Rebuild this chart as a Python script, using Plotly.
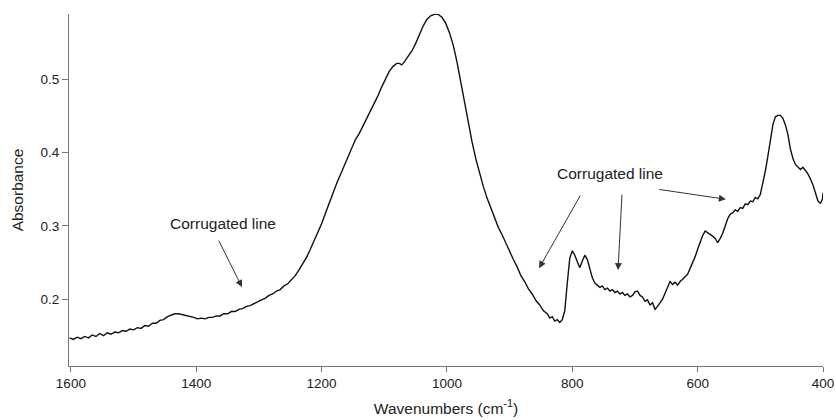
import plotly.graph_objects as go

wavenumber = [
    1602, 1596, 1590, 1584, 1578, 1572, 1566, 1560, 1554, 1548, 1542, 1536, 1530, 1524, 1518, 1512,
    1506, 1500, 1494, 1488, 1482, 1476, 1470, 1464, 1458, 1452, 1446, 1440, 1434, 1428, 1422, 1416,
    1410, 1404, 1398, 1392, 1386, 1380, 1374, 1368, 1362, 1356, 1350, 1344, 1338, 1332, 1326, 1320,
    1314, 1308, 1302, 1296, 1290, 1284, 1278, 1272, 1266, 1260, 1254, 1248, 1242, 1236, 1230, 1224,
    1218, 1212, 1206, 1200, 1194, 1188, 1182, 1176, 1170, 1164, 1158, 1152, 1146, 1140, 1134, 1128,
    1122, 1116, 1110, 1104, 1098, 1092, 1086, 1080, 1076, 1072, 1068, 1062, 1056, 1050, 1044, 1038,
    1032, 1026, 1020, 1014, 1008, 1002, 996, 990, 984, 978, 972, 966, 960, 954, 948, 942,
    936, 930, 924, 918, 912, 906, 900, 894, 888, 882, 876, 870, 864, 858, 852, 846,
    840, 836, 832, 828, 824, 820, 816, 812, 808, 804, 800, 796, 792, 788, 784, 780,
    776, 772, 768, 764, 760, 756, 752, 748, 744, 740, 736, 732, 728, 724, 720, 716,
    712, 708, 704, 700, 696, 692, 688, 684, 680, 676, 672, 668, 664, 660, 656, 652,
    648, 644, 640, 636, 632, 628, 624, 620, 616, 612, 608, 604, 600, 596, 592, 588,
    584, 580, 576, 572, 568, 564, 560, 556, 552, 548, 544, 540, 536, 532, 528, 524,
    520, 516, 512, 508, 504, 500, 496, 492, 488, 484, 480, 476, 472, 468, 464, 460,
    456, 452, 448, 444, 440, 436, 432, 428, 424, 420, 416, 412, 408, 404, 401, 400,
]

absorbance = [
    0.147, 0.145, 0.148, 0.146, 0.149, 0.147, 0.151, 0.149, 0.153, 0.150, 0.154, 0.152, 0.155, 0.154, 0.157, 0.156,
    0.159, 0.158, 0.161, 0.160, 0.164, 0.163, 0.167, 0.167, 0.171, 0.172, 0.176, 0.178, 0.180, 0.180, 0.179, 0.178,
    0.176, 0.175, 0.173, 0.174, 0.173, 0.175, 0.175, 0.177, 0.177, 0.180, 0.180, 0.183, 0.183, 0.186, 0.187, 0.190,
    0.191, 0.194, 0.196, 0.199, 0.201, 0.205, 0.207, 0.211, 0.213, 0.218, 0.221, 0.227, 0.232, 0.240, 0.248, 0.257,
    0.268, 0.279, 0.290, 0.303, 0.317, 0.331, 0.345, 0.358, 0.370, 0.382, 0.394, 0.406, 0.418, 0.426, 0.436, 0.446,
    0.456, 0.466, 0.478, 0.490, 0.501, 0.511, 0.518, 0.522, 0.522, 0.520, 0.524, 0.531, 0.539, 0.549, 0.561, 0.573,
    0.582, 0.587, 0.589, 0.589, 0.585, 0.577, 0.564, 0.547, 0.524, 0.497, 0.467, 0.440, 0.415, 0.392, 0.372, 0.354,
    0.338, 0.324, 0.311, 0.298, 0.288, 0.276, 0.266, 0.254, 0.244, 0.232, 0.224, 0.214, 0.207, 0.198, 0.192, 0.184,
    0.180, 0.174, 0.176, 0.170, 0.172, 0.168, 0.172, 0.184, 0.222, 0.256, 0.266, 0.260, 0.251, 0.243, 0.252, 0.260,
    0.254, 0.240, 0.229, 0.222, 0.219, 0.216, 0.218, 0.213, 0.215, 0.211, 0.213, 0.209, 0.211, 0.207, 0.209, 0.205,
    0.207, 0.203, 0.205, 0.210, 0.211, 0.205, 0.203, 0.197, 0.199, 0.192, 0.195, 0.186, 0.190, 0.195, 0.200, 0.208,
    0.217, 0.224, 0.220, 0.223, 0.219, 0.224, 0.227, 0.231, 0.234, 0.242, 0.249, 0.258, 0.268, 0.277, 0.287, 0.293,
    0.291, 0.289, 0.286, 0.283, 0.277, 0.283, 0.290, 0.300, 0.310, 0.316, 0.318, 0.322, 0.320, 0.325, 0.324, 0.330,
    0.329, 0.334, 0.333, 0.339, 0.337, 0.343, 0.358, 0.375, 0.395, 0.420, 0.438, 0.449, 0.451, 0.451, 0.447, 0.438,
    0.425, 0.405, 0.392, 0.384, 0.381, 0.377, 0.380, 0.376, 0.371, 0.364, 0.356, 0.345, 0.334, 0.331, 0.336, 0.345,
]

x_ticks = [1600, 1400, 1200, 1000, 800, 600, 400]
y_ticks = [0.2, 0.3, 0.4, 0.5]

label_text = "Corrugated line"
# text label centres (wavenumber, absorbance)
label_pos = [(1357, 0.3037), (740, 0.372)]
# arrow heads (wavenumber, absorbance) and tail offsets in pixels
arrow_heads = [(1327, 0.2164), (853, 0.2423), (727, 0.2396), (555, 0.3364)]
arrow_tails = [(-24, -48), (42, -74), (4, -77), (-68, -10)]

FONT = "Liberation Sans, Arial, sans-serif"
AXIS_COLOR = "#777777"
TEXT_COLOR = "#222222"

fig = go.Figure()
fig.add_trace(go.Scatter(
    x=wavenumber, y=absorbance, mode="lines",
    line=dict(color="#111111", width=1.4),
    showlegend=False, hoverinfo="skip",
))

annotations = []
for (lx, ly) in label_pos:
    annotations.append(dict(
        x=lx, y=ly, xref="x", yref="y", text=label_text, showarrow=False,
        font=dict(family=FONT, size=15.5, color=TEXT_COLOR),
        xanchor="center", yanchor="middle",
    ))
for (hx, hy), (ax, ay) in zip(arrow_heads, arrow_tails):
    annotations.append(dict(
        x=hx, y=hy, xref="x", yref="y", text="", showarrow=True,
        ax=ax, ay=ay, axref="pixel", ayref="pixel",
        arrowhead=2, arrowsize=1.4, arrowwidth=1, arrowcolor="#333333",
        standoff=0, startstandoff=0,
    ))

fig.update_layout(
    width=836, height=420,
    margin=dict(l=69, r=13, t=14, b=54, autoexpand=False),
    paper_bgcolor="white", plot_bgcolor="white",
    font=dict(family=FONT, size=13.5, color=TEXT_COLOR),
    annotations=annotations,
    xaxis=dict(
        range=[1603, 400], tickvals=x_ticks, ticktext=[str(v) for v in x_ticks],
        tickfont=dict(family=FONT, size=13.5, color=TEXT_COLOR),
        showline=True, linecolor=AXIS_COLOR, linewidth=1,
        ticks="outside", ticklen=5, tickwidth=1, tickcolor=AXIS_COLOR,
        showgrid=False, zeroline=False,
        title=dict(text="Wavenumbers (cm<sup>-1</sup>)", standoff=12,
                   font=dict(family=FONT, size=15.5, color=TEXT_COLOR)),
    ),
    yaxis=dict(
        range=[0.1086, 0.5895], tickvals=y_ticks, ticktext=[f"{v:.1f}" for v in y_ticks],
        tickfont=dict(family=FONT, size=13.5, color=TEXT_COLOR),
        showline=True, linecolor=AXIS_COLOR, linewidth=1,
        ticks="outside", ticklen=6, tickwidth=1, tickcolor=AXIS_COLOR,
        showgrid=False, zeroline=False,
        title=dict(text="Absorbance", standoff=13,
                   font=dict(family=FONT, size=15.5, color=TEXT_COLOR)),
    ),
)

fig.write_html("out.html")
